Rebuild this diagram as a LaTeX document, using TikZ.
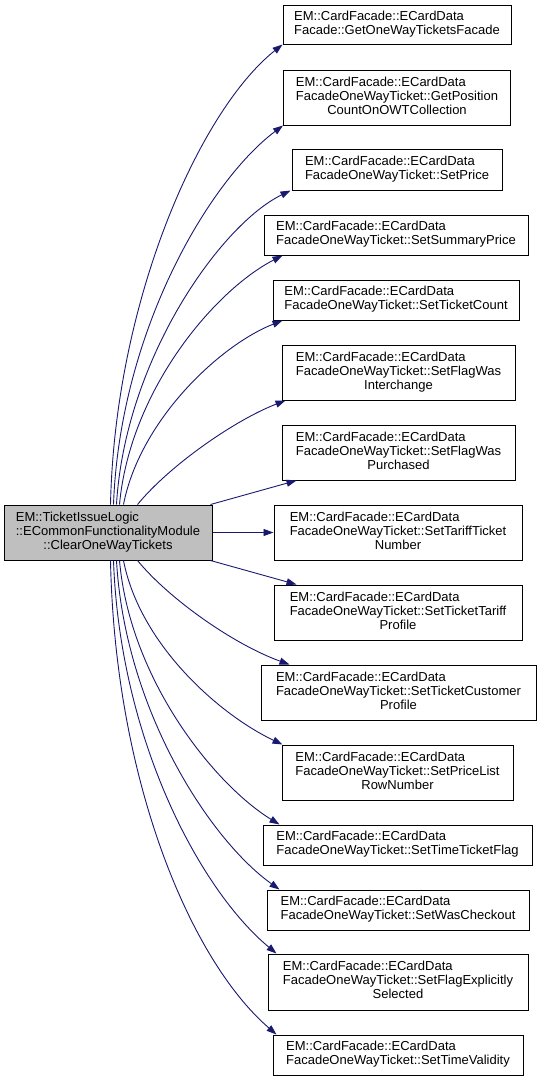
\documentclass[tikz,border=0pt]{standalone}
\usepackage{fontspec}
\setmainfont{Liberation Sans}
\usetikzlibrary{arrows.meta}
\definecolor{edgecol}{HTML}{191970}
\definecolor{mainfill}{HTML}{BFBFBF}
\newcommand{\lbl}[2]{\begin{tabular}{@{}l@{}}#1\\\multicolumn{1}{@{}c@{}}{#2}\end{tabular}}
\begin{document}
\begin{tikzpicture}[x=1pt,y=-1pt,
  fnbox/.style={draw=black, line width=1pt, fill=white, inner sep=0pt, font=\fontsize{13}{14}\selectfont},
  edge/.style={draw=edgecol, line width=0.9pt, -{Triangle[length=10pt,width=7pt]}}]
\useasboundingbox (0,0) rectangle (540,1080);
\node[fnbox, fill=mainfill, minimum width=208pt, minimum height=55pt] (main) at (108,532.5)
  {\lbl{EM::TicketIssueLogic\\::ECommonFunctionalityModule}{::ClearOneWayTickets}};
\node[fnbox, minimum width=228pt, minimum height=39pt] (t1) at (397,24.5)
  {\lbl{EM::CardFacade::ECardData}{Facade::GetOneWayTicketsFacade}};
\node[fnbox, minimum width=227pt, minimum height=55pt] (t2) at (397,97.5)
  {\lbl{EM::CardFacade::ECardData\\FacadeOneWayTicket::GetPosition}{CountOnOWTCollection}};
\node[fnbox, minimum width=210pt, minimum height=41pt] (t3) at (397,169.5)
  {\lbl{EM::CardFacade::ECardData}{FacadeOneWayTicket::SetPrice}};
\node[fnbox, minimum width=264pt, minimum height=40pt] (t4) at (396,235)
  {\lbl{EM::CardFacade::ECardData}{FacadeOneWayTicket::SetSummaryPrice}};
\node[fnbox, minimum width=246pt, minimum height=40pt] (t5) at (396,300)
  {\lbl{EM::CardFacade::ECardData}{FacadeOneWayTicket::SetTicketCount}};
\node[fnbox, minimum width=233pt, minimum height=55pt] (t6) at (398.5,372.5)
  {\lbl{EM::CardFacade::ECardData\\FacadeOneWayTicket::SetFlagWas}{Interchange}};
\node[fnbox, minimum width=233pt, minimum height=55pt] (t7) at (398.5,452.5)
  {\lbl{EM::CardFacade::ECardData\\FacadeOneWayTicket::SetFlagWas}{Purchased}};
\node[fnbox, minimum width=248pt, minimum height=55pt] (t8) at (398,532.5)
  {\lbl{EM::CardFacade::ECardData\\FacadeOneWayTicket::SetTariffTicket}{Number}};
\node[fnbox, minimum width=248pt, minimum height=55pt] (t9) at (398,612.5)
  {\lbl{EM::CardFacade::ECardData\\FacadeOneWayTicket::SetTicketTariff}{Profile}};
\node[fnbox, minimum width=275pt, minimum height=55pt] (t10) at (398.5,692.5)
  {\lbl{EM::CardFacade::ECardData\\FacadeOneWayTicket::SetTicketCustomer}{Profile}};
\node[fnbox, minimum width=231pt, minimum height=55pt] (t11) at (397.5,772.5)
  {\lbl{EM::CardFacade::ECardData\\FacadeOneWayTicket::SetPriceList}{RowNumber}};
\node[fnbox, minimum width=269pt, minimum height=40pt] (t12) at (397.5,845)
  {\lbl{EM::CardFacade::ECardData}{FacadeOneWayTicket::SetTimeTicketFlag}};
\node[fnbox, minimum width=262pt, minimum height=40pt] (t13) at (398,910)
  {\lbl{EM::CardFacade::ECardData}{FacadeOneWayTicket::SetWasCheckout}};
\node[fnbox, minimum width=260pt, minimum height=56pt] (t14) at (398,982)
  {\lbl{EM::CardFacade::ECardData\\FacadeOneWayTicket::SetFlagExplicitly}{Selected}};
\node[fnbox, minimum width=250pt, minimum height=40pt] (t15) at (398,1055)
  {\lbl{EM::CardFacade::ECardData}{FacadeOneWayTicket::SetTimeValidity}};
% edges upward
\draw[edge] ([xshift=107pt]main.north west) .. controls (115,300) and (200,110) .. (t1.south west);
\draw[edge] ([xshift=110pt]main.north west) .. controls (120,330) and (210,180) .. (t2.south west);
\draw[edge] ([xshift=113pt]main.north west) .. controls (125,360) and (220,225) .. ([xshift=-1pt]t3.south west);
\draw[edge] ([xshift=116pt]main.north west) .. controls (130,390) and (215,290) .. ([xshift=19pt]t4.south west);
\draw[edge] ([xshift=120pt]main.north west) .. controls (140,420) and (220,345) .. ([xshift=10pt]t5.south west);
\draw[edge] ([xshift=134pt]main.north west) .. controls (170,465) and (235,420) .. ([xshift=4pt]t6.south west);
\draw[edge] ([xshift=-2pt]main.north east) -- ([xshift=15pt]t7.south west);
\draw[edge] (main.east) -- (t8.west);
\draw[edge] ([xshift=-2pt]main.south east) -- ([xshift=23pt]t9.north west);
% edges downward
\draw[edge] ([xshift=134pt]main.south west) .. controls (170,600) and (235,645) .. ([xshift=29pt]t10.north west);
\draw[edge] ([xshift=120pt]main.south west) .. controls (140,645) and (220,715) .. ([xshift=1pt]t11.north west);
\draw[edge] ([xshift=116pt]main.south west) .. controls (130,680) and (215,785) .. ([xshift=17pt]t12.north west);
\draw[edge] ([xshift=113pt]main.south west) .. controls (125,710) and (210,840) .. ([xshift=13pt]t13.north west);
\draw[edge] ([xshift=110pt]main.south west) .. controls (120,740) and (200,890) .. ([xshift=9pt]t14.north west);
\draw[edge] ([xshift=107pt]main.south west) .. controls (115,780) and (190,960) .. ([xshift=4pt]t15.north west);
\end{tikzpicture}
\end{document}
